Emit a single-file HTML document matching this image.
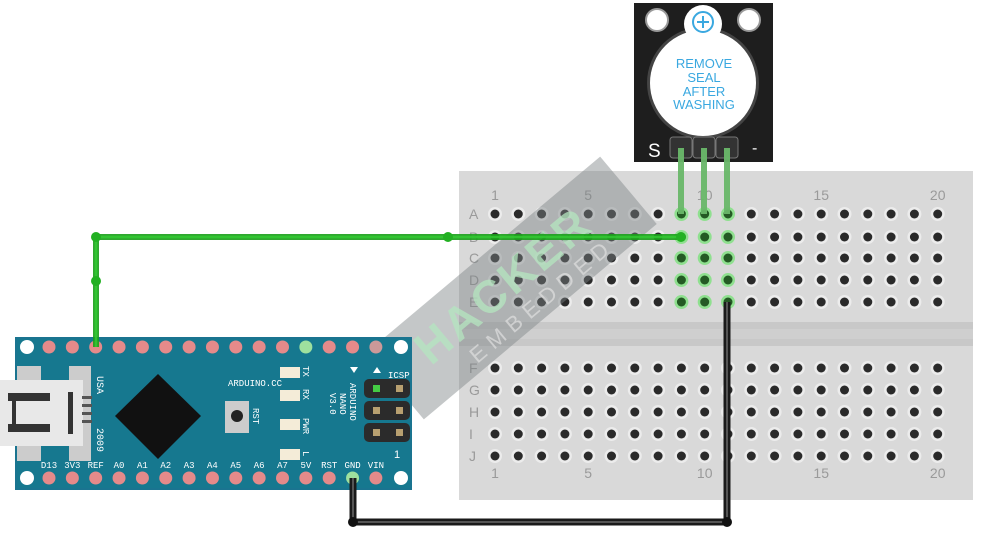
<!DOCTYPE html>
<html><head><meta charset="utf-8"><style>
html,body{margin:0;padding:0;background:#fff;}
svg{display:block;font-family:"Liberation Sans",sans-serif;}
</style></head><body>
<svg id="s" width="990" height="544" viewBox="0 0 990 544" xmlns="http://www.w3.org/2000/svg">
<rect x="459" y="171" width="514" height="329" fill="#d9d9d9"/>
<rect x="459" y="322" width="514" height="24" fill="#c8c8c8"/>
<rect x="459" y="329" width="514" height="10" fill="#cfcfcf"/>
<g id="bb" font-size="14" fill="#9a9a9a"></g>
<!-- watermark -->
<g transform="translate(512,288) rotate(-40)">
<rect x="-152" y="-44" width="304" height="88" fill="#7d8384" opacity="0.45"/>
<text x="-5" y="8" font-size="46" font-weight="bold" text-anchor="middle" fill="#b5e6c0" opacity="0.75" letter-spacing="3">HACKER</text>
<text x="15" y="36" font-size="22" text-anchor="middle" fill="#e0e0e0" opacity="0.7" letter-spacing="7">EMBEDDED</text>
</g>
<!-- arduino -->
<rect x="15" y="337" width="397" height="153" fill="#1a7490"/>
<rect x="17" y="339" width="393" height="149" fill="#16788f"/>
<circle cx="27" cy="347" r="7" fill="#fff"/><circle cx="401" cy="347" r="7" fill="#fff"/>
<circle cx="27" cy="478" r="7" fill="#fff"/><circle cx="401" cy="478" r="7" fill="#fff"/>
<g id="ard" font-size="9" fill="#fff" font-family="Liberation Mono,monospace"></g>
<rect x="17" y="366" width="24" height="95" fill="#ccc"/>
<rect x="69" y="366" width="22" height="95" fill="#ccc"/>
<rect x="0" y="380" width="83" height="66" fill="#e8e8e8"/>
<rect x="8" y="393" width="42" height="8" fill="#333"/><rect x="8" y="424" width="42" height="8" fill="#333"/>
<rect x="12" y="401" width="4" height="23" fill="#333"/>
<rect x="68" y="392" width="5" height="42" fill="#333"/>
<rect x="82" y="396" width="10" height="3" fill="#555"/><rect x="82" y="404" width="10" height="3" fill="#555"/><rect x="82" y="412" width="10" height="3" fill="#555"/><rect x="82" y="420" width="10" height="3" fill="#555"/>
<text transform="translate(97,376) rotate(90)" font-size="10" fill="#fff" font-family="Liberation Mono,monospace">USA</text>
<text transform="translate(97,428) rotate(90)" font-size="10" fill="#fff" font-family="Liberation Mono,monospace">2009</text>
<polygon points="158,374 201,416 158,459 115,416" fill="#111"/>
<rect x="225" y="401" width="24" height="32" fill="#ccc"/><circle cx="237" cy="416" r="6" fill="#222"/>
<text transform="translate(253,408) rotate(90)" font-size="9" fill="#fff" font-family="Liberation Mono,monospace">RST</text>
<text x="228" y="386" font-size="9" fill="#fff" font-family="Liberation Mono,monospace">ARDUINO.CC</text>
<g fill="#f4ecd8"><rect x="280" y="367" width="20" height="11"/><rect x="280" y="390" width="20" height="11"/><rect x="280" y="419" width="20" height="11"/><rect x="280" y="449" width="20" height="11"/></g>
<g font-size="9" fill="#fff" font-family="Liberation Mono,monospace">
<text transform="translate(303,366) rotate(90)">TX</text><text transform="translate(303,389) rotate(90)">RX</text>
<text transform="translate(303,418) rotate(90)">PWR</text><text transform="translate(303,451) rotate(90)">L</text>
<text transform="translate(350,383) rotate(90)">ARDUINO</text><text transform="translate(340,393) rotate(90)">NANO</text><text transform="translate(330,393) rotate(90)">V3.0</text>
<text x="388" y="378">ICSP</text></g>
<polygon points="350,367 358,367 354,373" fill="#fff"/><polygon points="373,373 381,373 377,367" fill="#fff"/>
<g fill="#2b2b2b"><rect x="364" y="379" width="46" height="19" rx="5"/><rect x="364" y="401" width="46" height="19" rx="5"/><rect x="364" y="423" width="46" height="19" rx="5"/></g>
<g fill="#b8a070"><rect x="373" y="385" width="7" height="7" fill="#4c4"/><rect x="396" y="385" width="7" height="7"/><rect x="373" y="407" width="7" height="7"/><rect x="396" y="407" width="7" height="7"/><rect x="373" y="429" width="7" height="7"/><rect x="396" y="429" width="7" height="7"/></g>
<text x="394" y="458" font-size="11" fill="#fff">1</text>
<!-- buzzer -->
<rect x="634" y="3" width="139" height="159" fill="#1e1e1e"/>
<circle cx="657" cy="20" r="11" fill="#fff" stroke="#999" stroke-width="2"/>
<circle cx="749" cy="20" r="11" fill="#fff" stroke="#999" stroke-width="2"/>
<circle cx="703" cy="83" r="56" fill="#444"/>
<circle cx="703" cy="24" r="19" fill="#fff"/>
<circle cx="703" cy="83" r="53" fill="#fff"/>
<circle cx="703" cy="22" r="10" fill="none" stroke="#3aa8e0" stroke-width="2"/>
<path d="M697 22H709M703 16V28" stroke="#3aa8e0" stroke-width="2"/>
<g font-size="13" fill="#3aa8e0" text-anchor="middle"><text x="704" y="68">REMOVE</text><text x="704" y="82">SEAL</text><text x="704" y="96">AFTER</text><text x="704" y="109">WASHING</text></g>
<text x="648" y="157" font-size="19" fill="#fff">S</text>
<text x="752" y="153" font-size="16" fill="#fff">-</text>
<g fill="#333" stroke="#777" stroke-width="1"><rect x="670" y="137" width="22" height="21" rx="3"/><rect x="693" y="137" width="22" height="21" rx="3"/><rect x="716" y="137" width="22" height="21" rx="3"/></g>
<g stroke="#6ab86a" stroke-width="6" opacity="0.95"><line x1="681" y1="148" x2="681" y2="214"/><line x1="704" y1="148" x2="704" y2="214"/><line x1="727" y1="148" x2="727" y2="214"/></g>
<!-- wires -->
<polyline points="96,347 96,237 681,237" fill="none" stroke="#1a9e1a" stroke-width="6" stroke-linejoin="round" opacity="0.9"/>
<polyline points="96,347 96,237 681,237" fill="none" stroke="#33cc33" stroke-width="2.5" stroke-linejoin="round" opacity="0.8"/>
<circle cx="96" cy="237" r="5" fill="#22b022"/><circle cx="96" cy="281" r="5" fill="#22b022"/><circle cx="448" cy="237" r="5" fill="#22b022"/><circle cx="681" cy="237" r="5" fill="#22b022"/>
<polyline points="353,478 353,522 727,522 727,302" fill="none" stroke="#1a1a1a" stroke-width="7" stroke-linejoin="round"/>
<polyline points="353,478 353,522 727,522 727,302" fill="none" stroke="#555" stroke-width="2" stroke-linejoin="round"/>
<circle cx="353" cy="522" r="5" fill="#111"/><circle cx="727" cy="522" r="5" fill="#111"/>
</svg>
<script>
var NS="http://www.w3.org/2000/svg";
function el(p,t,a,txt){var e=document.createElementNS(NS,t);for(var k in a)e.setAttribute(k,a[k]);if(txt)e.textContent=txt;p.appendChild(e);return e;}
var bb=document.getElementById("bb");
var rows=[214,237,258,280,302,368,390,412,434,456],L="ABCDEFGHIJ";
for(var c=0;c<20;c++){var x=495+c*23.3;
 for(var r=0;r<10;r++){var y=rows[r];var g=(c>=8&&c<=10&&r<5);
  el(bb,"circle",{cx:x,cy:y,r:7,fill:g?"#8fe08f":"#ececec"});
  el(bb,"circle",{cx:x,cy:y,r:4.5,fill:g?"#245a24":"#2a2a2a"});}
}
for(var r=0;r<10;r++)el(bb,"text",{x:469,y:rows[r]+5},L[r]);
[[1,0],[5,4],[10,9],[15,14],[20,19]].forEach(function(n){var x=495+n[1]*23.3;
 el(bb,"text",{x:x,y:200,"text-anchor":"middle"},n[0]);el(bb,"text",{x:x,y:478,"text-anchor":"middle"},n[0]);});
var a=document.getElementById("ard");
var top=["D12","D11","D10","D9","D8","D7","D6","D5","D4","D3","D2","GND","RST","RX0","TX1"];
var bot=["D13","3V3","REF","A0","A1","A2","A3","A4","A5","A6","A7","5V","RST","GND","VIN"];
for(var i=0;i<15;i++){var x=49+i*23.35;
 el(a,"circle",{cx:x,cy:347,r:6.5,fill:i==11?"#9ee09e":(i==14?"#c99":"#e58a8a")});
 el(a,"text",{x:x,y:364,"text-anchor":"middle"},top[i]);
 el(a,"circle",{cx:x,cy:478,r:6.5,fill:i==13?"#9ee09e":"#e58a8a"});
 el(a,"text",{x:x,y:468,"text-anchor":"middle"},bot[i]);}
</script>
</body></html>
